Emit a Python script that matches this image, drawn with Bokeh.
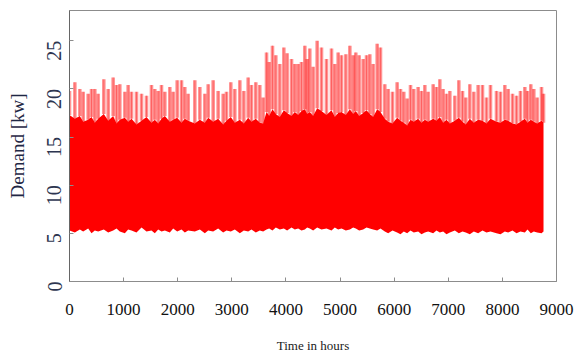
import math
from bokeh.plotting import figure
from bokeh.models import ColumnDataSource, FixedTicker, Range1d
from bokeh.embed import file_html
from bokeh.resources import INLINE

# Hour-of-year sample points with spike peak, solid-core top and trough values (kW)
hours = [0, 99, 191, 253, 345, 407, 468, 530, 634, 715, 807, 869, 930, 1023, 1084, 1146, 1238, 1331, 1423, 1515,
         1577, 1639, 1700, 1762, 1854, 1916, 1990, 2070, 2131, 2193,
         2316, 2409, 2501, 2563, 2655, 2747, 2840, 2901, 2981, 3055, 3148, 3222, 3302, 3363, 3443, 3517, 3579, 3641,
         3690, 3751, 3813, 3887, 3961, 4022, 4103, 4164, 4226, 4287, 4349, 4392,
         4441, 4503, 4577, 4657, 4749, 4842, 4903, 4965, 5027, 5107, 5181, 5242, 5291, 5353, 5427, 5489, 5550, 5612,
         5686, 5747, 5827, 5889, 5969, 6055, 6117, 6178, 6240, 6302, 6363, 6443, 6505, 6567,
         6628, 6721, 6782, 6844, 6905, 6967, 7029, 7121, 7195, 7263, 7324, 7398, 7472, 7552, 7632, 7706, 7780, 7891,
         7965, 8045, 8107, 8187, 8261, 8334, 8415, 8464, 8525, 8581, 8643, 8723, 8760]

peak = [19.8, 20.7, 20.0, 19.7, 19.5, 20.0, 20.0, 19.5, 21.0, 20.0, 21.2, 20.4, 20.5, 19.7, 20.4, 19.7, 19.7, 19.5, 19.3, 20.4,
        20.0, 19.8, 20.4, 19.7, 20.2, 19.7, 20.9, 20.9, 20.2, 19.5,
        20.9, 20.2, 19.5, 20.5, 20.9, 19.8, 19.5, 19.7, 20.7, 20.0, 20.9, 19.8, 21.2, 20.4, 20.7, 20.4, 19.1, 23.8,
        22.8, 24.5, 23.5, 22.6, 24.3, 23.7, 23.1, 22.6, 22.6, 22.8, 24.5, 23.1,
        24.2, 22.3, 25.0, 24.3, 23.1, 24.2, 22.6, 23.8, 23.5, 23.6, 24.5, 23.5, 23.8, 23.5, 23.1, 23.5, 23.6, 22.6,
        24.7, 24.3, 20.5, 20.0, 19.7, 20.7, 20.0, 19.7, 19.0, 20.4, 20.0, 20.2, 19.8, 20.4,
        19.7, 20.5, 20.2, 21.0, 20.0, 19.5, 19.8, 19.3, 20.9, 19.8, 19.1, 20.5, 19.7, 20.4, 20.4, 19.1, 20.4, 19.8,
        19.7, 20.4, 20.0, 19.5, 19.3, 19.8, 20.2, 19.8, 20.5, 20.0, 19.1, 20.2, 19.5]

core = [17.3, 16.9, 17.2, 16.6, 16.8, 17.1, 16.5, 16.9, 17.4, 16.7, 17.2, 16.4, 16.8, 17.0, 16.6, 16.9, 16.3, 16.7, 17.1, 16.5,
        16.8, 16.4, 16.9, 17.2, 16.6, 16.8, 17.0, 16.5, 16.9, 16.7,
        16.4, 16.8, 16.5, 17.0, 16.6, 16.9, 16.3, 16.7, 17.1, 16.5, 16.8, 16.4, 17.0, 16.6, 16.9, 16.5, 16.4, 17.6,
        17.2, 17.9, 17.4, 17.1, 17.8, 17.5, 17.2, 17.6, 17.3, 17.7, 17.9, 17.4,
        17.6, 17.2, 18.0, 17.7, 17.3, 17.8, 17.1, 17.5, 17.6, 17.3, 17.9, 17.4, 17.7, 17.2, 17.5, 17.8, 17.4, 17.1,
        17.9, 17.6, 16.9, 16.6, 16.4, 17.0, 16.7, 16.5, 16.2, 16.8, 16.6, 16.9, 16.5, 16.8,
        16.6, 16.9, 16.7, 17.1, 16.5, 16.8, 16.4, 16.7, 17.0, 16.6, 16.3, 16.9, 16.5, 16.8, 16.7, 16.4, 16.9, 16.6,
        16.5, 16.8, 16.7, 16.4, 16.3, 16.6, 16.9, 16.5, 16.8, 16.6, 16.4, 16.7, 16.5]

low = [5.3, 5.1, 5.4, 5.2, 5.5, 5.0, 5.3, 5.2, 5.4, 5.1, 5.3, 5.5, 5.2, 5.0, 5.4, 5.3, 5.1, 5.6, 5.2, 5.3,
       5.0, 5.4, 5.2, 5.3, 5.1, 5.5, 5.2, 5.4, 5.1, 5.3,
       5.2, 5.4, 5.0, 5.3, 5.2, 5.5, 5.1, 5.3, 5.2, 5.4, 5.0, 5.3, 5.2, 5.4, 5.1, 5.3, 5.2, 5.4,
       5.5, 5.3, 5.6, 5.4, 5.5, 5.3, 5.6, 5.4, 5.5, 5.3, 5.4, 5.6,
       5.5, 5.3, 5.6, 5.4, 5.5, 5.3, 5.6, 5.4, 5.5, 5.3, 5.4, 5.6, 5.5, 5.3, 5.4, 5.6, 5.5, 5.4,
       5.3, 5.5, 5.2, 5.0, 5.3, 5.1, 4.9, 5.2, 5.0, 5.3, 5.1, 5.2, 4.9, 5.1,
       5.2, 5.0, 5.3, 5.1, 5.2, 4.9, 5.1, 5.3, 5.0, 5.2, 5.1, 4.9, 5.2, 5.0, 5.3, 5.1, 5.2, 5.0,
       4.9, 5.2, 5.1, 5.3, 5.0, 5.2, 5.1, 5.4, 5.0, 5.2, 5.1, 5.0, 5.2]

x_ticks = [0, 1000, 2000, 3000, 4000, 5000, 6000, 7000, 8000, 9000]
y_ticks = [0, 5, 10, 15, 20, 25]

src = ColumnDataSource(dict(hours=hours, peak=peak, core=core, low=low))

p = figure(width=575, height=358, output_backend="svg", toolbar_location=None,
           x_range=Range1d(0, 9000), y_range=Range1d(0, 28.15),
           min_border_left=69, min_border_right=19, min_border_top=10, min_border_bottom=77,
           background_fill_color="white", border_fill_color="white")

# daily-peak spikes: wide light halo plus a thin darker centre line
p.segment(x0="hours", y0="core", x1="hours", y1="peak", source=src,
          line_color="#ff0000", line_alpha=0.42, line_width=3.6)
p.segment(x0="hours", y0="core", x1="hours", y1="peak", source=src,
          line_color="#ff0000", line_alpha=0.35, line_width=1.0)
# solid body of the hourly demand band
p.varea(x="hours", y1="low", y2="core", source=src, fill_color="#ff0000")

p.xgrid.visible = False
p.ygrid.visible = False
p.outline_line_color = "#8c8c8c"
p.outline_line_width = 1

serif = "Liberation Serif"

xa = p.xaxis[0]
xa.ticker = FixedTicker(ticks=x_ticks)
xa.axis_label = "Time in hours"
xa.axis_label_text_font = serif
xa.axis_label_text_font_style = "normal"
xa.axis_label_text_font_size = "13px"
xa.axis_label_text_color = "#1a1a1a"
xa.axis_label_standoff = 20
xa.major_label_text_font = serif
xa.major_label_text_font_size = "17px"
xa.major_label_text_color = "#111111"
xa.major_label_standoff = 22
xa.major_tick_in = 4
xa.major_tick_out = 0
xa.minor_tick_line_color = None
xa.major_tick_line_color = "#8c8c8c"
xa.axis_line_color = "#8c8c8c"

ya = p.yaxis[0]
ya.ticker = FixedTicker(ticks=y_ticks)
ya.axis_label = "Demand [kw]"
ya.axis_label_text_font = serif
ya.axis_label_text_font_style = "normal"
ya.axis_label_text_font_size = "19px"
ya.axis_label_text_color = "#1f2744"
ya.axis_label_standoff = 10
ya.major_label_orientation = math.pi / 2
ya.major_label_text_font = serif
ya.major_label_text_font_size = "20px"
ya.major_label_text_color = "#2d3550"
ya.major_label_standoff = 15
ya.major_tick_in = 4
ya.major_tick_out = 0
ya.minor_tick_line_color = None
ya.major_tick_line_color = "#8c8c8c"
ya.axis_line_color = "#666666"

open("out.html", "w").write(file_html(p, INLINE))
